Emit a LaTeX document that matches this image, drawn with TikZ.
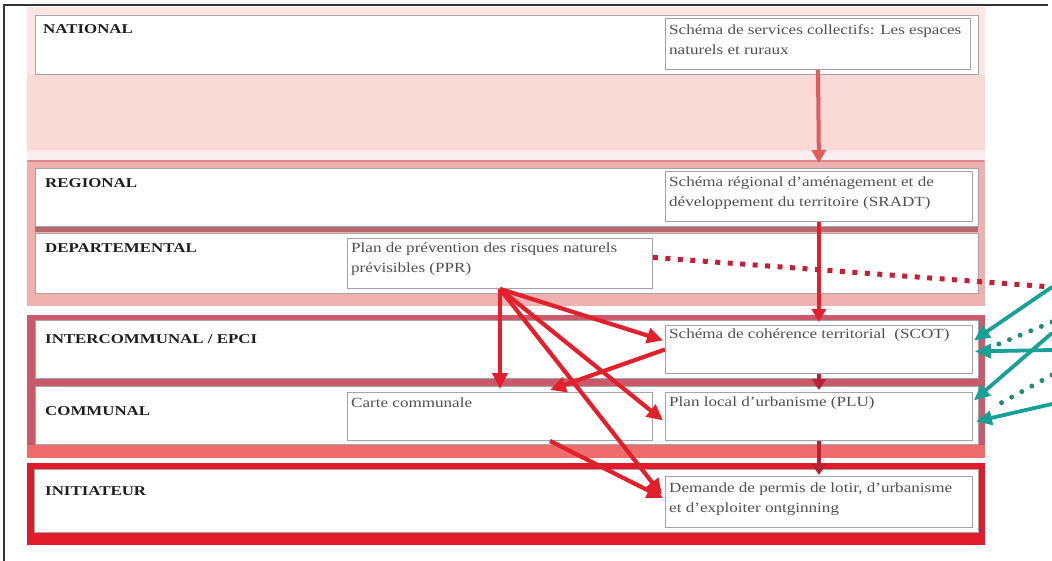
\documentclass[tikz,border=0pt]{standalone}
\usepackage{fontspec}
\setmainfont{Liberation Serif}
\newfontfamily\widefont[FakeStretch=1.22]{Liberation Serif}
\newfontfamily\labelfont[FakeStretch=1.25]{Liberation Serif}
\usetikzlibrary{arrows.meta,calc}

\definecolor{frameline}{HTML}{333333}
\definecolor{natpink}{HTML}{F9DAD7}
\definecolor{natpale}{HTML}{FBE6E6}
\definecolor{gapwhite}{HTML}{FBEEF0}
\definecolor{regpink}{HTML}{EFB0B0}
\definecolor{regedge}{HTML}{D98A8C}
\definecolor{regsep}{HTML}{B8686C}
\definecolor{interrose}{HTML}{C95A6C}
\definecolor{intersalmon}{HTML}{EE6C6C}
\definecolor{initred}{HTML}{E11B2C}
\definecolor{boxgray}{HTML}{A4A4A8}
\definecolor{txtgray}{HTML}{505050}
\definecolor{labdark}{HTML}{1E1E1E}
\definecolor{arrsalmon}{HTML}{E25C5E}
\definecolor{arrred}{HTML}{E2202C}
\definecolor{arrdark}{HTML}{B82034}
\definecolor{dotred}{HTML}{C42035}
\definecolor{teal}{HTML}{16A096}
\definecolor{tealdot}{HTML}{1E8A80}

\begin{document}
\begin{tikzpicture}[x=1pt,y=-1pt,
  levelbox/.style={draw=boxgray, fill=white, line width=1pt, inner sep=0pt, anchor=north west},
  detail/.style={draw=boxgray, fill=white, line width=0.9pt, inner sep=0pt, anchor=north west},
  dtext/.style={anchor=north west, inner sep=0pt, text=txtgray, align=left,
    font=\fontsize{14}{20}\selectfont\widefont},
  lab/.style={anchor=base west, inner sep=0pt, text=labdark,
    font=\fontsize{13.5}{16}\selectfont\labelfont\bfseries},
  bigarrow/.style={line width=4.2pt, draw=arrred, -{Triangle[length=16pt,width=15pt]}},
  vertarrow/.style={line width=4pt, -{Triangle[length=13pt,width=14pt]}},
  shortarrow/.style={line width=3.5pt, draw=arrdark, -{Triangle[length=11pt,width=14pt]}},
  tealarrow/.style={line width=3.8pt, draw=teal, -{Triangle[length=16pt,width=14pt]}},
  tealdots/.style={line width=5pt, draw=tealdot, line cap=round, dash pattern=on 0pt off 11.5pt},
  reddots/.style={line width=5pt, draw=dotred, dash pattern=on 5pt off 7.5pt}
]
\useasboundingbox (0,0) rectangle (1052,561);
\fill[white] (0,0) rectangle (1052,561);

% page frame
\draw[frameline, line width=2pt] (4,561) -- (4,5) -- (1048,5);

% national level
\fill[natpale] (27,7) rectangle (985,152);
\fill[natpink] (27,75) rectangle (985,150);
\fill[gapwhite] (27,152) rectangle (985,160);
\node[levelbox, minimum width=943, minimum height=59] (nat) at (35,15) {};

% regional and departmental levels
\fill[regpink] (27,160) rectangle (985,306);
\draw[regedge, line width=2pt] (28,161) -- (984,161);
\fill[regsep] (35,227) rectangle (978,232);
\node[levelbox, minimum width=943, minimum height=58] (reg) at (35,168) {};
\node[levelbox, minimum width=943, minimum height=60] (dep) at (35,233) {};

% intercommunal and communal levels
\fill[interrose] (27,315) rectangle (985,447);
\fill[intersalmon] (27,445) rectangle (985,458);
\node[levelbox, minimum width=943, minimum height=58] (inter) at (35,320) {};
\node[levelbox, minimum width=943, minimum height=58] (comm) at (35,386) {};

% initiator level
\fill[initred] (27,463) rectangle (985,545);
\node[levelbox, minimum width=944, minimum height=63] (init) at (34,469) {};

% level names
\node[lab] (l-nat) at (43,34) {NATIONAL};
\node[lab] (l-reg) at (45,188) {REGIONAL};
\node[lab] (l-dep) at (45,253) {DEPARTEMENTAL};
\node[lab] (l-inter) at (45,343) {INTERCOMMUNAL / EPCI};
\node[lab] (l-comm) at (45,415) {COMMUNAL};
\node[lab] (l-init) at (45,495) {INITIATEUR};

% planning documents
\node[detail, minimum width=305, minimum height=51] (serv) at (665,18) {};
\node[detail, minimum width=307, minimum height=50] (sradt) at (665,171) {};
\node[detail, minimum width=305, minimum height=50] (ppr) at (347,238) {};
\node[detail, minimum width=307, minimum height=48] (scot) at (665,325) {};
\node[detail, minimum width=305, minimum height=48] (carte) at (347,392) {};
\node[detail, minimum width=307, minimum height=48] (plu) at (665,392) {};
\node[detail, minimum width=307, minimum height=51] (dem) at (665,476) {};

\node[dtext] (serv-t) at ([xshift=4pt,yshift=-6pt]serv.north west)
  {Schéma de services collectifs: Les espaces\\naturels et ruraux};
\node[dtext] (sradt-t) at ([xshift=4pt,yshift=-6pt]sradt.north west)
  {Schéma régional d’aménagement et de\\développement du territoire (SRADT)};
\node[dtext] (ppr-t) at ([xshift=4pt,yshift=-5pt]ppr.north west)
  {Plan de prévention des risques naturels\\prévisibles (PPR)};
\node[dtext] (scot-t) at ([xshift=4pt,yshift=-4pt]scot.north west)
  {Schéma de cohérence territorial\ \ (SCOT)};
\node[dtext] (carte-t) at ([xshift=4pt,yshift=-6pt]carte.north west)
  {Carte communale};
\node[dtext] (plu-t) at ([xshift=4pt,yshift=-5pt]plu.north west)
  {Plan local d’urbanisme (PLU)};
\node[dtext] (dem-t) at ([xshift=4pt,yshift=-7pt]dem.north west)
  {Demande de permis de lotir, d’urbanisme\\et d’exploiter ontginning};

% top-down hierarchy
\draw[vertarrow, draw=arrsalmon] (serv.south) -- ([yshift=8pt]sradt.north);
\draw[vertarrow, draw=arrred] (sradt.south) -- ([yshift=3pt]scot.north);
\draw[shortarrow] (scot.south) -- ([yshift=2pt]plu.north);
\draw[shortarrow] (plu.south) -- ([yshift=1pt]dem.north);

% risk prevention plan
\draw[bigarrow] (ppr.south) -- ([yshift=3pt]carte.north);
\draw[bigarrow] (ppr.south) -- ([xshift=-2pt,yshift=9pt]scot.west);
\draw[bigarrow] (ppr.south) -- ([xshift=-2pt,yshift=-4pt]plu.west);
\draw[bigarrow] (ppr.south) -- ([xshift=-3pt,yshift=7pt]dem.west);
\draw[bigarrow] (scot.west) -- ([xshift=50pt,yshift=2pt]carte.north);
\draw[bigarrow] ([xshift=50pt]carte.south) -- ([xshift=-2pt,yshift=4pt]dem.west);

% external links
\coordinate (pprout) at (1052,287);
\draw[reddots] ([yshift=6pt]ppr.east) -- (pprout);

\coordinate (ta) at (1052,287);
\coordinate (tb) at (1052,322);
\coordinate (tc) at (1052,350);
\coordinate (td) at (1052,333);
\coordinate (te) at (1052,375);
\coordinate (tf) at (1052,404);
\draw[tealarrow] (ta) -- ([xshift=1pt,yshift=9pt]scot.east);
\draw[tealdots] (tb) -- ([xshift=20pt,yshift=3pt]scot.east);
\draw[tealarrow] (tc) -- ([xshift=2pt,yshift=-2pt]scot.east);
\draw[tealarrow] (td) -- ([xshift=1pt,yshift=16pt]plu.east);
\draw[tealdots] (te) -- ([xshift=20pt,yshift=9pt]plu.east);
\draw[tealarrow] (tf) -- ([xshift=3pt,yshift=-5pt]plu.east);
\end{tikzpicture}
\end{document}
